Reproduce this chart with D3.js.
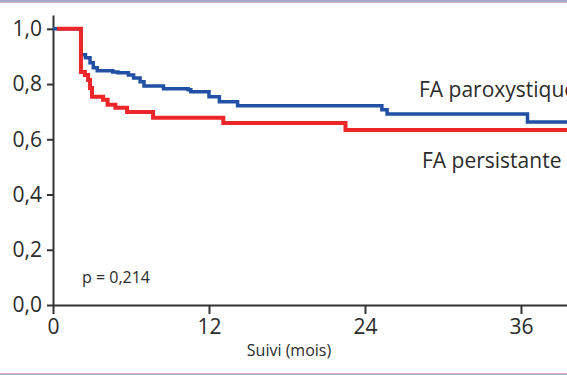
<!DOCTYPE html>
<html>
<head>
<meta charset="utf-8">
<script src="https://cdn.jsdelivr.net/npm/d3@7"></script>
<style>
  body { margin: 0; background: #fff; }
  text { font-family: "Open Sans", "Noto Sans", sans-serif; fill: #2b2b2b; }
</style>
</head>
<body>
<div id="chart"></div>
<script>
/* Kaplan-Meier: FA paroxystique vs FA persistante */

// months (start of each step) and survival values
const paroxMonths = [0, 2.15, 2.5, 2.85, 3.1, 3.4, 4.6, 5.0, 5.8, 6.2, 6.7, 7.0, 8.5, 10.4, 10.6, 12.0, 12.8, 14.2, 25.3, 25.7, 36.5, 40];
const paroxSurv   = [1.0, 0.906, 0.895, 0.877, 0.859, 0.848, 0.844, 0.841, 0.833, 0.822, 0.808, 0.793, 0.783, 0.779, 0.772, 0.754, 0.736, 0.721, 0.707, 0.692, 0.663, 0.663];

const persMonths = [0.3, 2.15, 2.45, 2.7, 2.85, 3.0, 3.85, 4.2, 4.8, 5.7, 7.7, 13.1, 22.5, 40];
const persSurv   = [1.0, 0.844, 0.833, 0.815, 0.786, 0.754, 0.743, 0.725, 0.714, 0.699, 0.678, 0.659, 0.634, 0.634];

const xTicks = [0, 12, 24, 36];
const yTicks = [0, 0.2, 0.4, 0.6, 0.8, 1.0];

const seriesNames = ["FA paroxystique", "FA persistante"];
const pValue = "p = 0,214";
const xTitle = "Suivi (mois)";

const width = 567, height = 375;

let svg = d3.select("#chart")
    .append("svg")
    .attr("width", width)
    .attr("height", height);

// thin coloured rules top and bottom
svg.append("rect").attr("x", 0).attr("y", 0).attr("width", width).attr("height", 2).attr("fill", "#a1aaca");
svg.append("rect").attr("x", 0).attr("y", 2).attr("width", width).attr("height", 1).attr("fill", "#dcb0ba");
svg.append("rect").attr("x", 0).attr("y", 373).attr("width", width).attr("height", 1).attr("fill", "#dcb0ba");
svg.append("rect").attr("x", 0).attr("y", 374).attr("width", width).attr("height", 1).attr("fill", "#a1aaca");

const x = d3.scaleLinear()
    .domain([0, 39.54])
    .range([53, 567]);

const y = d3.scaleLinear()
    .domain([0, 1.05])
    .range([305, 15]);

const comma = d => d3.format(".1f")(d).replace(".", ",");

// y axis
let yAxis = svg.append("g")
    .attr("transform", "translate(53,0)")
    .call(d3.axisLeft(y).tickValues(yTicks).tickFormat(comma).tickSize(6).tickPadding(5).tickSizeOuter(0));
yAxis.select(".domain").attr("stroke", "#333").attr("stroke-width", 2);
yAxis.selectAll(".tick line").attr("stroke", "#333").attr("stroke-width", 2);
yAxis.selectAll(".tick text").attr("font-size", 21).attr("font-family", null).style("fill", "#2b2b2b");

// x axis
let xAxis = svg.append("g")
    .attr("transform", "translate(0,305)")
    .call(d3.axisBottom(x).tickValues(xTicks).tickFormat(d3.format("d")).tickSize(9).tickPadding(5).tickSizeOuter(0));
xAxis.select(".domain").attr("stroke", "#333").attr("stroke-width", 2);
xAxis.selectAll(".tick line").attr("stroke", "#333").attr("stroke-width", 2);
xAxis.selectAll(".tick text").attr("font-size", 21).attr("font-family", null).style("fill", "#2b2b2b");

const line = d3.line()
    .x(d => x(d[0]))
    .y(d => y(d[1]))
    .curve(d3.curveStepAfter);

svg.append("path")
    .datum(d3.zip(paroxMonths, paroxSurv))
    .attr("fill", "none")
    .attr("stroke", "#2150a4")
    .attr("stroke-width", 3.5)
    .attr("d", line);

svg.append("path")
    .datum(d3.zip(persMonths, persSurv))
    .attr("fill", "none")
    .attr("stroke", "#ec2629")
    .attr("stroke-width", 4)
    .attr("d", line);

// labels (the first one runs past the right edge, as in the source figure)
svg.append("text").text(seriesNames[0])
    .attr("x", 419).attr("y", 97).attr("font-size", 21);
svg.append("text").text(seriesNames[1])
    .attr("x", 422).attr("y", 168).attr("font-size", 21);
svg.append("text").text(pValue)
    .attr("x", 82).attr("y", 283).attr("font-size", 16);
svg.append("text").text(xTitle)
    .attr("x", 289).attr("y", 356).attr("text-anchor", "middle").attr("font-size", 16);
</script>
</body>
</html>
